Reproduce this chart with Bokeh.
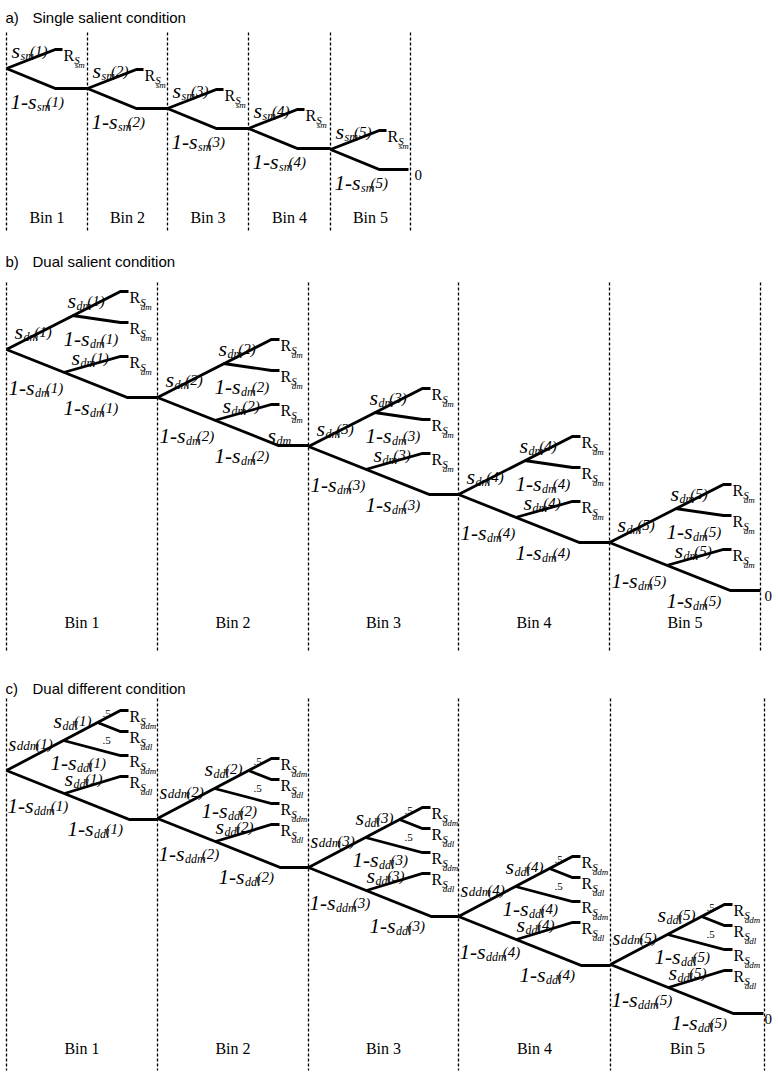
from bokeh.plotting import figure
from bokeh.models import ColumnDataSource, Range1d
from bokeh.embed import file_html
from bokeh.resources import INLINE

# ---------------- data ----------------
bin_labels = ["Bin 1", "Bin 2", "Bin 3", "Bin 4", "Bin 5"]
bin_numbers = [1, 2, 3, 4, 5]
panel_letters = ["a)", "b)", "c)"]
panel_titles = ["Single salient condition", "Dual salient condition", "Dual different condition"]
sub_single = "sm"
sub_dual = "dm"
sub_diff_main = "ddm"
sub_diff_last = "ddl"
split_probs = [".5", ".5"]
terminal_value = "0"

# ---------------- layout ----------------
W, H = 778, 1076
edges_a = [6, 87, 167, 248, 330, 410]
nodes_a = [68, 88, 108, 128, 149]
edges_b = [6, 157, 308, 458, 609, 760]
nodes_b = [349, 397, 446, 494, 542]
edges_c = [6, 157, 308, 458, 610, 764]
nodes_c = [770, 818, 867, 916, 964]
dash_a = (32, 232)
dash_b = (282, 650)
dash_c = (698, 1070)
title_base = [17, 261, 688]
bin_base = [217, 622, 1048]

SERIF = "Liberation Serif"
SANS = "Liberation Sans"
S_BIG, ONE, SUB, PAR = 22, 21, 12, 15
SUB_DY, PAR_DX = 5, -4

IT = {'s': 389, 'm': 722, 'd': 500, 'l': 278, '(': 333, ')': 333, '-': 333, 'S': 500,
      '1': 500, '2': 500, '3': 500, '4': 500, '5': 500}
RG = {'R': 667, 'S': 556, '0': 500, '.': 250, '5': 500, 'B': 667, 'i': 278, 'n': 500, ' ': 250}


def tw(t, size, style):
    tab = IT if style == "italic" else RG
    return sum(tab.get(c, 500) for c in t) * size / 1000.0


T = {k: [] for k in ("x", "y", "text", "size", "style", "font")}
TC = {k: [] for k in ("x", "y", "text", "size", "style", "font")}
LX, LY = [], []
DX0, DY0, DY1 = [], [], []


def put(x, y, text, size, style="italic", font=SERIF, store=None):
    d = T if store is None else store
    d["x"].append(x); d["y"].append(y); d["text"].append(text)
    d["size"].append(f"{size}px"); d["style"].append(style); d["font"].append(font)


def rich(x, y, parts):
    cx = x
    for (t, size, dy, dx, style) in parts:
        cx += dx
        put(cx, y + dy, t, size, style)
        cx += tw(t, size, style)


def s_lab(x, y, sub, n, s_size=S_BIG, sub_size=SUB, sub_dy=SUB_DY):
    parts = [("s", s_size, 0, 0, "italic"), (sub, sub_size, sub_dy, 0.5, "italic")]
    if n is not None:
        parts.append((f"({n})", PAR, 0, PAR_DX, "italic"))
    rich(x, y, parts)


def oms_lab(x, y, sub, n, sub_size=SUB, sub_dy=SUB_DY):
    rich(x, y, [("1-", ONE, 0, 0, "italic"), ("s", S_BIG, 0, 0, "italic"),
                (sub, sub_size, sub_dy, 0.5, "italic"), (f"({n})", PAR, 0, PAR_DX, "italic")])


def r_lab(ex, ey, sub):
    rich(ex + 1, ey + 6, [("R", 16, 0, 0, "normal"), ("S", 11, 4, 0, "italic"),
                         (sub, 9, 9, -5, "italic")])


def seg(pts):
    LX.append([p[0] for p in pts]); LY.append([p[1] for p in pts])


def dashed(edges, rng):
    for e in edges:
        DX0.append(e); DY0.append(rng[0]); DY1.append(rng[1])


def bins(edges, base):
    for i, lab in enumerate(bin_labels):
        put((edges[i] + edges[i + 1]) / 2, base, lab, 16, "normal", SERIF, store=TC)


# ---------------- panel a ----------------
dashed(edges_a, dash_a)
for i, n in enumerate(bin_numbers):
    x0, y0 = edges_a[i], nodes_a[i]
    ux, uy = x0 + 49, y0 - 19
    lx, ly = x0 + 49, y0 + 20
    seg([(x0, y0), (ux, uy), (ux + 7, uy)])
    nxt = edges_a[i + 1] if i < 4 else x0 + 78
    seg([(x0, y0), (lx, ly), (nxt, ly)])
    r_lab(ux + 7, uy, sub_single)
    s_lab(x0 + 5, y0 - 18, sub_single, n)
    oms_lab(x0 + 4, y0 + 33, sub_single, n)
    if i == 4:
        put(nxt + 6, ly + 5, terminal_value, 15, "normal")
bins(edges_a, bin_base[0])

# ---------------- panel b ----------------
dashed(edges_b, dash_b)
for i, n in enumerate(bin_numbers):
    x0, y0 = edges_b[i], nodes_b[i]
    ue = (x0 + 114, y0 - 58)
    us = (x0 + 66, y0 - 34)
    le = (x0 + 121, y0 + 48)
    ls = (x0 + 57, y0 + 23)
    seg([(x0, y0), ue, (ue[0] + 8, ue[1])])
    seg([us, (x0 + 114, y0 - 27), (x0 + 122, y0 - 27)])
    seg([ls, (x0 + 114, y0 + 7), (x0 + 122, y0 + 7)])
    nxt = edges_b[i + 1] if i < 4 else le[0] + 30
    seg([(x0, y0), le, (nxt, le[1])])
    for ey in (y0 - 58, y0 - 27, y0 + 7):
        r_lab(x0 + 122, ey, sub_dual)
    s_lab(x0 + 8, y0 - 18, sub_dual, n)
    s_lab(x0 + 61, y0 - 49, sub_dual, n)
    oms_lab(x0 + 57, y0 - 11, sub_dual, n)
    s_lab(x0 + 65, y0 + 8, sub_dual, n)
    oms_lab(x0 + 2, y0 + 38, sub_dual, n)
    oms_lab(x0 + 57, y0 + 58, sub_dual, n)
    if i == 1:
        s_lab(x0 + 110, y0 + 38, sub_dual, None)
    if i == 4:
        put(nxt + 4, le[1] + 5, terminal_value, 15, "normal")
bins(edges_b, bin_base[1])

# ---------------- panel c ----------------
dashed(edges_c, dash_c)
for i, n in enumerate(bin_numbers):
    x0, y0 = edges_c[i], nodes_c[i]
    ue = (x0 + 114, y0 - 60)
    A = (x0 + 57, y0 - 30)
    B = (x0 + 91, y0 - 48)
    le = (x0 + 123, y0 + 49)
    C = (x0 + 58, y0 + 23)
    seg([(x0, y0), ue, (ue[0] + 8, ue[1])])
    seg([B, (x0 + 114, y0 - 39), (x0 + 122, y0 - 39)])
    seg([A, (x0 + 114, y0 - 15), (x0 + 122, y0 - 15)])
    seg([C, (x0 + 114, y0 + 6), (x0 + 122, y0 + 6)])
    nxt = edges_c[i + 1] if i < 4 else le[0] + 30
    seg([(x0, y0), le, (nxt, le[1])])
    for ey, sb in ((y0 - 60, sub_diff_main), (y0 - 39, sub_diff_last),
                   (y0 - 15, sub_diff_main), (y0 + 6, sub_diff_last)):
        r_lab(x0 + 122, ey, sb)
    put(x0 + 96, y0 - 57, split_probs[0], 11, "normal")
    put(x0 + 96, y0 - 30, split_probs[1], 11, "normal")
    s_lab(x0 + 2, y0 - 27, sub_diff_main, n, s_size=20, sub_size=13, sub_dy=2)
    s_lab(x0 + 47, y0 - 50, sub_diff_last, n)
    oms_lab(x0 + 44, y0 - 8, sub_diff_last, n)
    s_lab(x0 + 58, y0 + 8, sub_diff_last, n)
    oms_lab(x0 + 1, y0 + 35, sub_diff_main, n)
    oms_lab(x0 + 61, y0 + 58, sub_diff_last, n)
    if i == 4:
        put(nxt + 1, le[1] + 5, terminal_value, 15, "normal")
bins(edges_c, bin_base[2])

# titles
for k in range(3):
    put(5, title_base[k], panel_letters[k], 15, "normal", SANS)
    put(32, title_base[k], panel_titles[k], 15, "normal", SANS)

# ---------------- figure ----------------
p = figure(width=W, height=H, x_range=Range1d(0, W), y_range=Range1d(H, 0),
           output_backend="svg", toolbar_location=None, min_border=0,
           x_axis_location=None, y_axis_location=None)
p.grid.visible = False
p.outline_line_color = None
p.background_fill_color = "white"

p.segment(x0=DX0, y0=DY0, x1=DX0, y1=DY1, line_color="black", line_width=1.3, line_dash="3 2")
p.multi_line(xs=LX, ys=LY, line_color="black", line_width=2.8, line_join="miter")
p.text(x="x", y="y", text="text", text_font_size="size", text_font_style="style",
       text_font="font", text_align="left", text_baseline="alphabetic",
       text_color="black", source=ColumnDataSource(T))
p.text(x="x", y="y", text="text", text_font_size="size", text_font_style="style",
       text_font="font", text_align="center", text_baseline="alphabetic",
       text_color="black", source=ColumnDataSource(TC))

open("out.html", "w").write(file_html(p, INLINE))
